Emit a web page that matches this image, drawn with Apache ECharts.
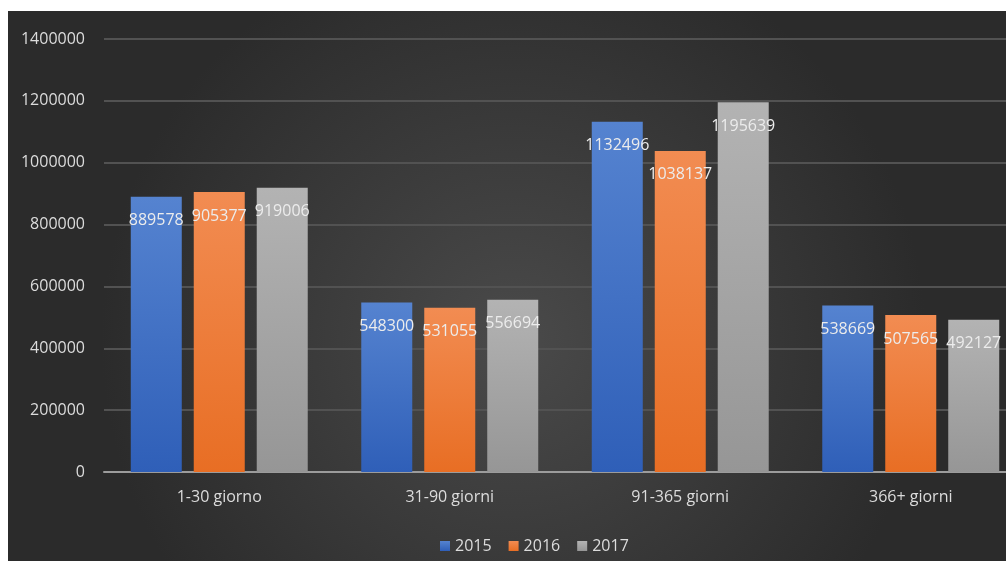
<!DOCTYPE html>
<html>
<head>
<meta charset="utf-8">
<script src="https://cdn.jsdelivr.net/npm/echarts@6/dist/echarts.min.js"></script>
<style>
  html, body { margin: 0; padding: 0; background: #ffffff; overflow: hidden; }
  /* the plot runs slightly past the right edge of the window */
  #chart { width: 1040px; height: 561px; }
</style>
</head>
<body>
<div id="chart"></div>
<script>
// Periodi di durata
const categories = ['1-30 giorno', '31-90 giorni', '91-365 giorni', '366+ giorni'];
const years = ['2015', '2016', '2017'];
const values2015 = [889578, 548300, 1132496, 538669];
const values2016 = [905377, 531055, 1038137, 507565];
const values2017 = [919006, 556694, 1195639, 492127];
const yTicks = { min: 0, max: 1400000, interval: 200000 };

const fontFamily = '"Open Sans", Lato, sans-serif';

function grad(top, bottom) {
  return new echarts.graphic.LinearGradient(0, 0, 0, 1, [
    { offset: 0, color: top },
    { offset: 1, color: bottom }
  ]);
}

const seriesStyles = [
  { color: '#4472C4', fill: grad('#5583d0', '#2f5fb8') },
  { color: '#ED7D31', fill: grad('#f28c52', '#e86e24') },
  { color: '#A5A5A5', fill: grad('#b3b3b3', '#969696') }
];
const seriesData = [values2015, values2016, values2017];

const chart = echarts.init(document.getElementById('chart'), null, { renderer: 'canvas' });

chart.setOption({
  backgroundColor: '#ffffff',
  animation: false,
  textStyle: { fontFamily: fontFamily },
  graphic: [{
    type: 'rect',
    z: -10,
    silent: true,
    shape: { x: 8, y: 11, width: 1032, height: 550 },
    style: {
      fill: new echarts.graphic.RadialGradient(0.49, 0.6, 0.75, [
        { offset: 0, color: '#4a4a4a' },
        { offset: 1, color: '#2b2b2b' }
      ])
    }
  }],
  grid: { left: 104, top: 39, width: 922, height: 433, containLabel: false },
  legend: {
    data: years,
    top: 533,
    left: 435,
    icon: 'rect',
    itemWidth: 10,
    itemHeight: 10,
    itemGap: 17,
    textStyle: { color: '#dcdcdc', fontSize: 16, fontFamily: fontFamily }
  },
  xAxis: {
    type: 'category',
    data: categories,
    axisLine: { show: true, lineStyle: { color: '#9c9c9c', width: 2 } },
    axisTick: { show: false },
    axisLabel: { color: '#dcdcdc', fontSize: 16, margin: 17, fontFamily: fontFamily }
  },
  yAxis: {
    type: 'value',
    min: yTicks.min,
    max: yTicks.max,
    interval: yTicks.interval,
    axisLine: { show: false },
    axisTick: { show: false },
    splitLine: { lineStyle: { color: '#525252', width: 2 } },
    axisLabel: {
      color: '#dcdcdc',
      fontSize: 16,
      margin: 19,
      fontFamily: fontFamily,
      formatter: v => String(v)
    }
  },
  series: years.map((y, i) => ({
    name: y,
    type: 'bar',
    data: seriesData[i],
    barWidth: 51,
    barGap: '23.5%',
    itemStyle: { color: seriesStyles[i].fill },
    label: {
      show: true,
      position: 'insideTop',
      distance: 16,
      color: '#ececec',
      fontSize: 16,
      fontFamily: fontFamily
    }
  })),
  color: seriesStyles.map(s => s.color)
});
</script>
</body>
</html>
